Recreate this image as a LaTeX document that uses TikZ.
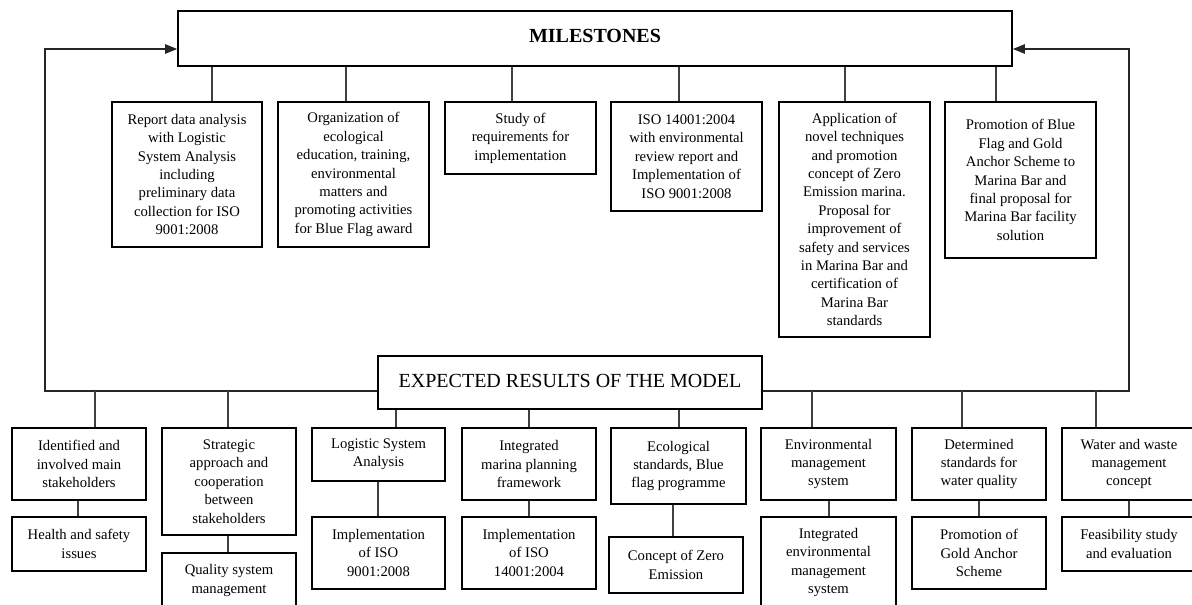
\documentclass[tikz,border=0pt]{standalone}
\usepackage{fontspec}
\setmainfont{Liberation Serif}
\usetikzlibrary{arrows.meta}
\begin{document}
\begin{tikzpicture}[x=0.75pt,y=-0.75pt,
  box/.style={draw=black,line width=1.2pt,inner sep=0pt,align=center,
    font=\fontsize{11}{13.8}\selectfont},
  sized/.style 2 args={minimum width=#1*0.75pt,minimum height=#2*0.75pt},
  head/.style={draw=black,line width=1.2pt,inner sep=0pt},
  link/.style={draw=black!75,line width=0.8pt},
  loopline/.style={draw=black!85,line width=1.1pt},
  tip/.style={-{Triangle[length=9pt,width=7pt]}}
]
\useasboundingbox (0,0) rectangle (1192,604);

% headline boxes
\node[head,sized={834}{55},font=\fontsize{15}{18}\selectfont\bfseries] (ms) at (595,38.5) {\raisebox{4pt}{MILESTONES}};
\node[head,sized={384}{53},font=\fontsize{15}{18}\selectfont] (er) at (570,382.5) {\raisebox{2.5pt}{EXPECTED RESULTS OF THE MODEL}};

% milestones
\node[box,sized={150}{145}] (m1) at (187,174.5) {Report data analysis\\with Logistic\\System Analysis\\including\\preliminary data\\collection for ISO\\9001:2008};
\node[box,sized={151}{145}] (m2) at (353.5,174.5) {Organization of\\ecological\\education, training,\\environmental\\matters and\\promoting activities\\for Blue Flag award};
\node[box,sized={151}{72}] (m3) at (520.5,138) {Study of\\requirements for\\implementation};
\node[box,sized={151}{109}] (m4) at (686.5,156.5) {ISO 14001:2004\\with environmental\\review report and\\Implementation of\\ISO 9001:2008};
\node[box,sized={151}{235}] (m5) at (854.5,219.5) {Application of\\novel techniques\\and promotion\\concept of Zero\\Emission marina.\\Proposal for\\improvement of\\safety and services\\in Marina Bar and\\certification of\\Marina Bar\\standards};
\node[box,sized={151}{156}] (m6) at (1020.5,180) {\raisebox{3pt}{\parbox{110pt}{\centering Promotion of Blue\\Flag and Gold\\Anchor Scheme to\\Marina Bar and\\final proposal for\\Marina Bar facility\\solution}}};

\draw[link] (ms.south -| 212,0) -- (m1.north -| 212,0);
\draw[link] (ms.south -| 346,0) -- (m2.north -| 346,0);
\draw[link] (ms.south -| 512,0) -- (m3.north -| 512,0);
\draw[link] (ms.south -| 679,0) -- (m4.north -| 679,0);
\draw[link] (ms.south -| 845,0) -- (m5.north -| 845,0);
\draw[link] (ms.south -| 996,0) -- (m6.north -| 996,0);

% expected results, first level
\node[box,sized={134}{72}]  (b1) at (79,464)     {Identified and\\involved main\\stakeholders};
\node[box,sized={134}{107}] (b2) at (229,481.5)  {Strategic\\approach and\\cooperation\\between\\stakeholders};
\node[box,sized={133}{53}]  (b3) at (378.5,454.5){Logistic System\\Analysis};
\node[box,sized={134}{72}]  (b4) at (529,464)    {Integrated\\marina planning\\framework};
\node[box,sized={135}{76}]  (b5) at (678.5,466)  {Ecological\\standards, Blue\\flag programme};
\node[box,sized={135}{72}]  (b6) at (828.5,464)  {Environmental\\management\\system};
\node[box,sized={134}{72}]  (b7) at (979,464)    {Determined\\standards for\\water quality};
\node[box,sized={134}{72}]  (b8) at (1129,464)   {Water and waste\\management\\concept};

% expected results, second level
\node[box,sized={134}{54}]  (s1) at (79,544)     {Health and safety\\issues};
\node[box,sized={134}{55}]  (s2) at (229,580.5)  {Quality system\\management};
\node[box,sized={133}{72}]  (s3) at (378.5,553)  {Implementation\\of ISO\\9001:2008};
\node[box,sized={134}{72}]  (s4) at (529,553)    {Implementation\\of ISO\\14001:2004};
\node[box,sized={134}{56}]  (s5) at (676,565)    {Concept of Zero\\Emission};
\node[box,sized={135}{91}]  (s6) at (828.5,562.5){Integrated\\environmental\\management\\system};
\node[box,sized={134}{72}]  (s7) at (979,553)    {Promotion of\\Gold Anchor\\Scheme};
\node[box,sized={134}{54}]  (s8) at (1129,544)   {Feasibility study\\and evaluation};

% feedback loops into the milestones
\coordinate (lb) at (45,391);
\coordinate (lt) at (45,49);
\coordinate (rb) at (1129,391);
\coordinate (rt) at (1129,49);
\draw[loopline,tip] (er.west |- lb) -- (lb) -- (lt) -- (ms.west |- lt);
\draw[loopline,tip] (er.east |- rb) -- (rb) -- (rt) -- (ms.east |- rt);

% branches to the first level
\draw[link] (lb -| 95,0)  -- (b1.north -| 95,0);
\draw[link] (lb -| 228,0) -- (b2.north -| 228,0);
\draw[link] (er.south -| 396,0) -- (b3.north -| 396,0);
\draw[link] (er.south -| 529,0) -- (b4.north -| 529,0);
\draw[link] (er.south -| 679,0) -- (b5.north -| 679,0);
\draw[link] (rb -| 812,0)  -- (b6.north -| 812,0);
\draw[link] (rb -| 962,0)  -- (b7.north -| 962,0);
\draw[link] (rb -| 1096,0) -- (b8.north -| 1096,0);

% first to second level
\draw[link] (b1.south -| 78,0)  -- (s1.north -| 78,0);
\draw[link] (b2.south -| 228,0) -- (s2.north -| 228,0);
\draw[link] (b3.south -| 378,0) -- (s3.north -| 378,0);
\draw[link] (b4.south -| 529,0) -- (s4.north -| 529,0);
\draw[link] (b5.south -| 673,0) -- (s5.north -| 673,0);
\draw[link] (b6.south -| 829,0) -- (s6.north -| 829,0);
\draw[link] (b7.south -| 979,0) -- (s7.north -| 979,0);
\draw[link] (b8.south -| 1129,0) -- (s8.north -| 1129,0);
\end{tikzpicture}
\end{document}
